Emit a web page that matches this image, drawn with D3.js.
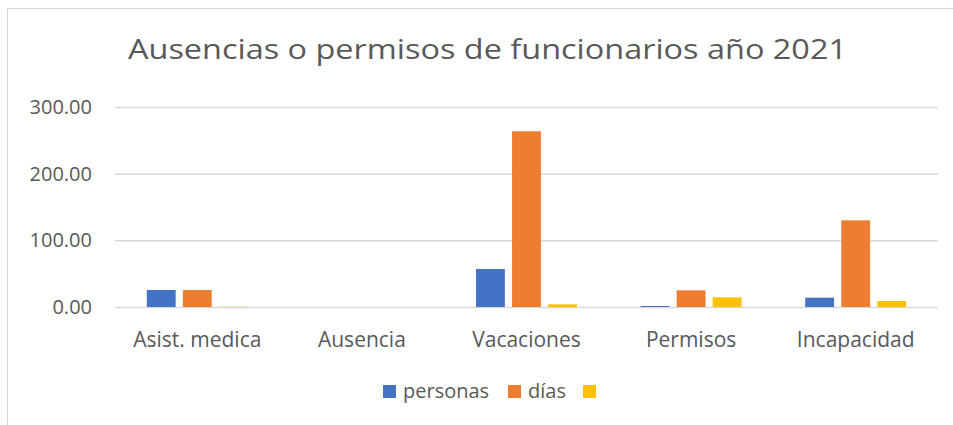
<!DOCTYPE html>
<html>
<head>
<meta charset="utf-8">
<script src="https://cdn.jsdelivr.net/npm/d3@7/dist/d3.min.js"></script>
<style>
  body { margin: 0; background: #fff; }
  svg text { font-family: "Open Sans", sans-serif; fill: #595959; }
</style>
</head>
<body>
<div class="chart"></div>
<script>
// data
const categories = ['Asist. medica', 'Ausencia', 'Vacaciones', 'Permisos', 'Incapacidad']
const seriesNames = ['personas', 'días', '']
const personas = [25.5, 0, 57, 1.5, 14]
const dias = [25.5, 0, 263.5, 25, 130]
const tercera = [0.4, 0, 4, 14.5, 9]
const yTicks = [0, 100, 200, 300]
const colors = ['#4472C4', '#ED7D31', '#FFC000']

const W = 953, H = 425
const margin = {top: 107, left: 115, right: 15, bottom: 118}

const svg = d3.select('.chart').append('svg')
  .attr('width', W)
  .attr('height', H)

// chart area border
svg.append('rect')
  .attr('x', 7.5).attr('y', 8.5)
  .attr('width', 960).attr('height', 430)
  .attr('fill', 'none')
  .attr('stroke', '#D9D9D9')

svg.append('text')
  .attr('x', 128).attr('y', 59)
  .attr('textLength', 719)
  .attr('lengthAdjust', 'spacingAndGlyphs')
  .style('font-size', '28px')
  .text('Ausencias o permisos de funcionarios año 2021')

let x0 = d3.scaleBand()
  .domain(categories)
  .range([margin.left, W - margin.right])

let groupW = 101
let x1 = d3.scaleBand()
  .domain(d3.range(seriesNames.length))
  .range([0, groupW])
  .paddingInner(0.2)

let y = d3.scaleLinear()
  .domain([0, 300])
  .range([307, margin.top])

// gridlines
svg.append('g')
  .selectAll('line')
  .data(yTicks)
  .enter()
  .append('line')
    .attr('x1', margin.left).attr('x2', W - margin.right)
    .attr('y1', d => y(d) + 0.5).attr('y2', d => y(d) + 0.5)
    .attr('stroke', '#D9D9D9')
    .attr('stroke-width', 1.5)

// y labels
let yAxis = svg.append('g')
  .attr('transform', 'translate(92,0)')
  .call(d3.axisLeft(y).tickValues(yTicks).tickFormat(d3.format('.2f')).tickSize(0).tickPadding(0))
yAxis.select('.domain').remove()
yAxis.selectAll('text')
  .style('font-size', '20px')
  .attr('fill', '#595959')
  .style('font-family', '"Open Sans", sans-serif')

// x labels
let xAxis = svg.append('g')
  .attr('transform', 'translate(0,307)')
  .call(d3.axisBottom(x0).tickSize(0).tickPadding(25))
xAxis.select('.domain').remove()
xAxis.selectAll('text')
  .style('font-size', '21px')
  .attr('fill', '#595959')
  .style('font-family', '"Open Sans", sans-serif')

const values = [personas, dias, tercera]
let rows = []
categories.forEach((c, i) => {
  values.forEach((arr, s) => rows.push({cat: c, s: s, v: arr[i]}))
})

let off = (x0.bandwidth() - groupW) / 2
svg.append('g')
  .selectAll('rect')
  .data(rows.filter(d => d.v > 0))
  .enter()
  .append('rect')
    .attr('x', d => x0(d.cat) + off + x1(d.s))
    .attr('y', d => y(d.v))
    .attr('width', x1.bandwidth())
    .attr('height', d => y(0) - y(d.v))
    .attr('fill', d => colors[d.s])

// legend
const legendX = [383, 508, 583]
let leg = svg.append('g')
  .selectAll('g')
  .data(seriesNames)
  .enter()
  .append('g')
    .attr('transform', (d, i) => 'translate(' + legendX[i] + ',385)')
leg.append('rect')
  .attr('width', 13).attr('height', 13)
  .attr('fill', (d, i) => colors[i])
leg.append('text')
  .attr('x', 20).attr('y', 13)
  .style('font-size', '20px')
  .text(d => d)
</script>
</body>
</html>
